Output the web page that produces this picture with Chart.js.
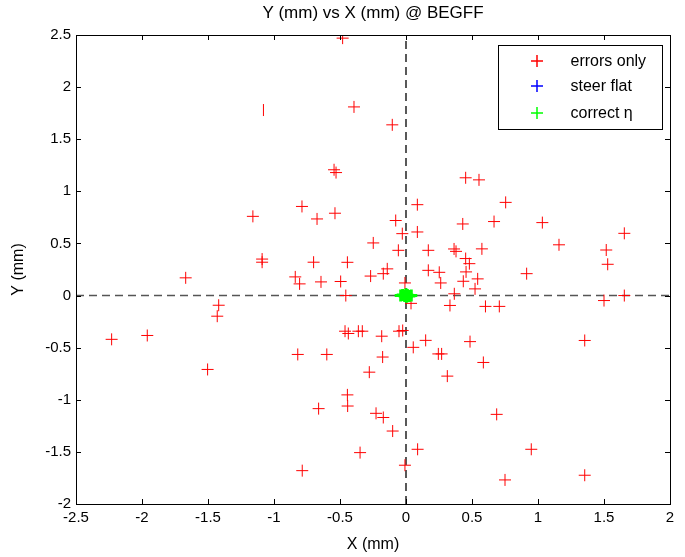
<!DOCTYPE html>
<html>
<head>
<meta charset="utf-8">
<script src="https://cdn.jsdelivr.net/npm/chart.js@4/dist/chart.umd.min.js"></script>
<style>
  body { margin: 0; background: #fff; }
</style>
</head>
<body>
<canvas id="myChart" width="685" height="557"></canvas>
<script>
// tick values
var xTicks = [-2.5, -2, -1.5, -1, -0.5, 0, 0.5, 1, 1.5, 2];
var yTicks = [-2, -1.5, -1, -0.5, 0, 0.5, 1, 1.5, 2, 2.5];

// "errors only" (red)
var errX = [-0.48, -1.08, -0.394, -0.104, -0.545, -0.53, 0.452, 0.553, 0.086, 0.755,
  -0.788, -1.16, -0.538, -0.674, -0.078, 0.43, 0.667, 1.033, -0.028, 0.086,
  1.654, -0.248, 1.159, -0.058, 0.169, 0.364, 0.379, 0.575, 1.517, 0.452,
  0.48, 1.528, -1.09, -1.09, -0.70, -0.444, -0.142, -0.172, -0.268, 0.169,
  0.252, 0.455, 0.914, -1.669, -0.839, -0.806, -0.644, -0.495, 0.263, 0.434,
  0.543, 0.523, -0.008, -0.456, 0.366, 1.654, 1.50, 0.038, 0.333, 0.602,
  0.707, -1.419, -1.43, -2.23, -1.96, -0.462, -0.437, -0.361, -0.331, -0.184,
  -0.053, -0.025, 0.055, 0.149, 0.485, 1.354, -0.82, -0.60, -0.177, 0.245,
  0.27, 0.586, -1.503, -0.278, 0.313, -0.444, -0.442, -0.662, -0.227, -0.172,
  -0.101, 0.687, 0.088, 0.949, -0.348, -0.008, -0.786, 1.354, 0.75];
var errY = [2.47, 1.78, 1.81, 1.638, 1.207, 1.18, 1.13, 1.11, 0.872, 0.894,
  0.855, 0.76, 0.79, 0.735, 0.72, 0.687, 0.71, 0.70, 0.594, 0.61,
  0.597, 0.505, 0.487, 0.434, 0.434, 0.447, 0.424, 0.448, 0.437, 0.355,
  0.306, 0.30, 0.35, 0.32, 0.32, 0.319, 0.256, 0.21, 0.187, 0.242,
  0.223, 0.227, 0.21, 0.17, 0.179, 0.112, 0.131, 0.135, 0.121, 0.137,
  0.16, 0.064, 0.121, 0.0, 0.017, 0.0, -0.048, -0.075, -0.095, -0.104,
  -0.104, -0.093, -0.198, -0.42, -0.383, -0.342, -0.364, -0.342, -0.342, -0.39,
  -0.342, -0.335, -0.497, -0.43, -0.442, -0.431, -0.565, -0.565, -0.59, -0.56,
  -0.56, -0.642, -0.709, -0.735, -0.773, -0.953, -1.06, -1.085, -1.13, -1.17,
  -1.30, -1.14, -1.475, -1.475, -1.507, -1.628, -1.68, -1.724, -1.769];
var barOnlyIndex = 1; // this marker shows only its vertical stroke

// "steer flat" (blue) - hidden under the green markers
var steerX = [0.0, 0.01, -0.01];
var steerY = [0.0, 0.005, -0.005];

// "correct eta" (green)
var corrX = [-0.04, -0.025, -0.01, 0.0, 0.01, 0.025, 0.04, 0.0, 0.005];
var corrY = [0.0, 0.005, -0.005, 0.0, 0.005, -0.005, 0.0, 0.012, -0.012];

function pts(xs, ys) {
  return xs.map(function (x, i) { return { x: x, y: ys[i] }; });
}

var FONT = "'Liberation Sans', Arial, Helvetica, sans-serif";
var TITLE = 'Y (mm) vs X (mm) @ BEGFF';

var frame = {
  id: 'frame',
  afterDraw: function (chart) {
    var c = chart.ctx, a = chart.chartArea;
    var sx = chart.scales.x, sy = chart.scales.y;
    c.save();

    // title, centred over the plot box
    c.fillStyle = '#000';
    c.font = '17px ' + FONT;
    c.textAlign = 'center';
    c.textBaseline = 'middle';
    c.fillText(TITLE, (a.left + a.right) / 2, 13);
    c.textAlign = 'left';

    c.strokeStyle = '#000';
    c.lineWidth = 1;
    c.beginPath();
    xTicks.forEach(function (v) {
      var p = Math.round(sx.getPixelForValue(v)) + 0.5;
      c.moveTo(p, a.bottom); c.lineTo(p, a.bottom - 5);
      c.moveTo(p, a.top); c.lineTo(p, a.top + 5);
    });
    yTicks.forEach(function (v) {
      var p = Math.round(sy.getPixelForValue(v)) + 0.5;
      c.moveTo(a.left, p); c.lineTo(a.left + 5, p);
      c.moveTo(a.right, p); c.lineTo(a.right - 5, p);
    });
    c.stroke();
    c.strokeRect(Math.round(a.left) + 0.5, Math.round(a.top) + 0.5,
      Math.round(a.right - a.left), Math.round(a.bottom - a.top));

    // legend box
    var bx = Math.round(a.right) - 171.5, by = Math.round(a.top) + 10.5;
    c.fillStyle = '#fff';
    c.fillRect(bx, by, 164, 84);
    c.strokeRect(bx, by, 164, 84);
    var items = [['errors only', '#ff0000'], ['steer flat', '#0000ff'], ['correct \u03b7', '#00ff00']];
    var rows = [16, 41, 68];
    c.font = '16px ' + FONT;
    c.textBaseline = 'middle';
    items.forEach(function (it, i) {
      var mx = bx + 38.5, my = by + rows[i] - 0.5;
      c.strokeStyle = it[1];
      c.lineWidth = 1.5;
      c.beginPath();
      c.moveTo(mx - 6, my); c.lineTo(mx + 6, my);
      c.moveTo(mx, my - 6); c.lineTo(mx, my + 6);
      c.stroke();
      c.fillStyle = '#000';
      c.fillText(it[0], bx + 72, my + 1);
    });
    c.restore();
  }
};

var ctx = document.getElementById('myChart').getContext('2d');

var myChart = new Chart(ctx, {
  type: 'scatter',
  data: {
    datasets: [
      {
        label: 'errors only',
        data: pts(errX, errY),
        borderColor: '#ff0000',
        backgroundColor: '#ff0000',
        pointStyle: function (c) { return c.dataIndex === barOnlyIndex ? 'line' : 'cross'; },
        rotation: function (c) { return c.dataIndex === barOnlyIndex ? 90 : 0; },
        pointRadius: 6,
        borderWidth: 1,
        order: 3
      },
      {
        label: 'steer flat',
        data: pts(steerX, steerY),
        borderColor: '#0000ff',
        pointStyle: 'cross',
        pointRadius: 6,
        borderWidth: 1,
        order: 2
      },
      {
        label: 'correct \u03b7',
        data: pts(corrX, corrY),
        borderColor: '#00ff00',
        pointStyle: 'cross',
        pointRadius: 6,
        borderWidth: 3,
        order: 1
      },
      {
        type: 'line',
        label: 'x0',
        data: [{ x: 0, y: -2 }, { x: 0, y: 2.5 }],
        borderColor: '#000',
        borderWidth: 1.3,
        borderDash: [8, 5],
        pointRadius: 0,
        order: 10
      },
      {
        type: 'line',
        label: 'y0',
        data: [{ x: -2.5, y: 0 }, { x: 2, y: 0 }],
        borderColor: '#555',
        borderWidth: 1.5,
        borderDash: [8, 5],
        pointRadius: 0,
        order: 10
      }
    ]
  },
  options: {
    responsive: false,
    animation: false,
    layout: { padding: { left: 0, right: 15, top: 35, bottom: 0 } },
    plugins: {
      legend: { display: false },
      tooltip: { enabled: false },
      title: { display: false }
    },
    scales: {
      x: {
        type: 'linear',
        min: -2.5,
        max: 2,
        afterBuildTicks: function (s) { s.ticks = xTicks.map(function (v) { return { value: v }; }); },
        afterFit: function (s) { s.height = 53; },
        grid: { display: false, drawTicks: false },
        border: { display: false },
        ticks: {
          color: '#000',
          padding: 5,
          maxRotation: 0,
          font: { family: FONT, size: 15 },
          callback: function (v) { return String(v); }
        },
        title: {
          display: true,
          text: 'X (mm)',
          color: '#000',
          font: { family: FONT, size: 16 },
          padding: { top: 0, bottom: 3 }
        }
      },
      y: {
        type: 'linear',
        min: -2,
        max: 2.5,
        afterBuildTicks: function (s) { s.ticks = yTicks.map(function (v) { return { value: v }; }); },
        afterFit: function (s) { s.width = 76; },
        grid: { display: false, drawTicks: false },
        border: { display: false },
        ticks: {
          color: '#000',
          padding: 5,
          font: { family: FONT, size: 15 },
          callback: function (v) { return String(v); }
        },
        title: {
          display: true,
          text: 'Y (mm)',
          color: '#000',
          font: { family: FONT, size: 16 },
          padding: { top: 9, bottom: 0 }
        }
      }
    }
  },
  plugins: [frame]
});
</script>
</body>
</html>
